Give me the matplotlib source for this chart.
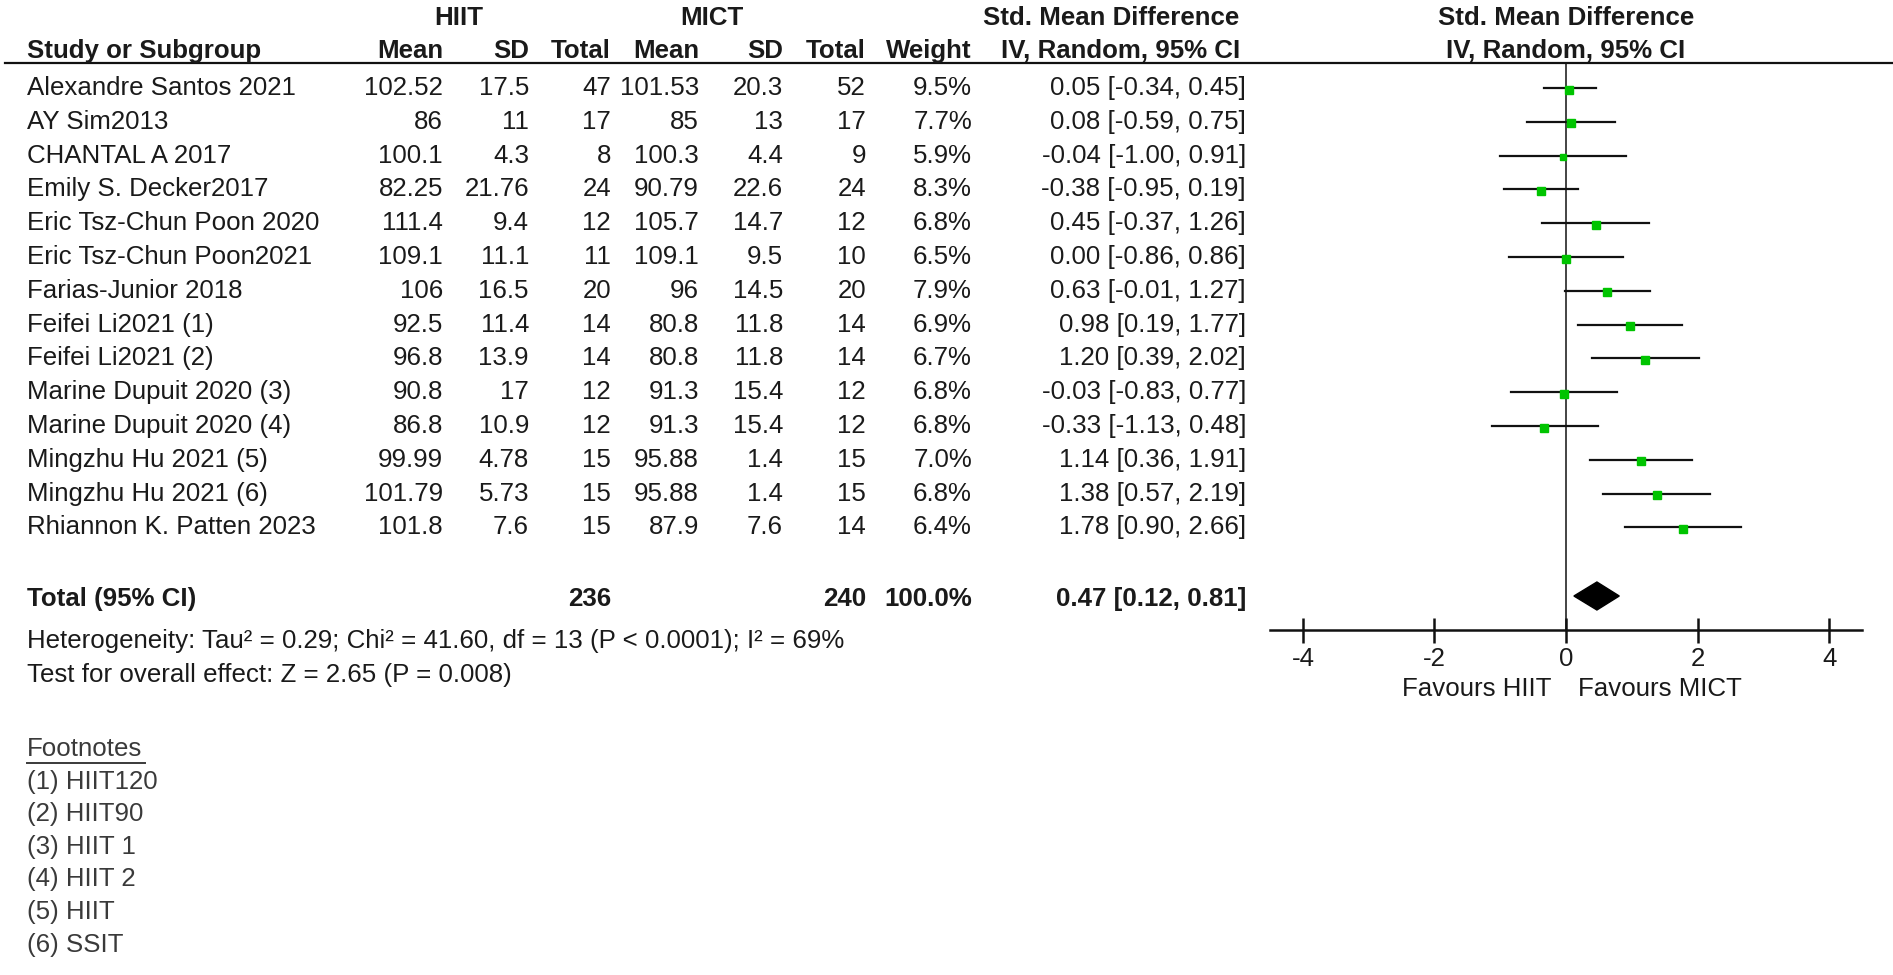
import matplotlib
matplotlib.use("Agg")
import matplotlib.pyplot as plt
from matplotlib.patches import Polygon

# ---------------- data ----------------
studies = ["Alexandre Santos 2021", "AY Sim2013", "CHANTAL A 2017", "Emily S. Decker2017",
           "Eric Tsz-Chun Poon 2020", "Eric Tsz-Chun Poon2021", "Farias-Junior 2018",
           "Feifei Li2021 (1)", "Feifei Li2021 (2)", "Marine Dupuit 2020 (3)",
           "Marine Dupuit 2020 (4)", "Mingzhu Hu 2021 (5)", "Mingzhu Hu 2021 (6)",
           "Rhiannon K. Patten 2023"]
hiit_mean = ["102.52", "86", "100.1", "82.25", "111.4", "109.1", "106", "92.5", "96.8",
             "90.8", "86.8", "99.99", "101.79", "101.8"]
hiit_sd = ["17.5", "11", "4.3", "21.76", "9.4", "11.1", "16.5", "11.4", "13.9",
           "17", "10.9", "4.78", "5.73", "7.6"]
hiit_n = [47, 17, 8, 24, 12, 11, 20, 14, 14, 12, 12, 15, 15, 15]
mict_mean = ["101.53", "85", "100.3", "90.79", "105.7", "109.1", "96", "80.8", "80.8",
             "91.3", "91.3", "95.88", "95.88", "87.9"]
mict_sd = ["20.3", "13", "4.4", "22.6", "14.7", "9.5", "14.5", "11.8", "11.8",
           "15.4", "15.4", "1.4", "1.4", "7.6"]
mict_n = [52, 17, 9, 24, 12, 10, 20, 14, 14, 12, 12, 15, 15, 14]
weight = [9.5, 7.7, 5.9, 8.3, 6.8, 6.5, 7.9, 6.9, 6.7, 6.8, 6.8, 7.0, 6.8, 6.4]
smd = [0.05, 0.08, -0.04, -0.38, 0.45, 0.00, 0.63, 0.98, 1.20, -0.03, -0.33, 1.14, 1.38, 1.78]
ci_lo = [-0.34, -0.59, -1.00, -0.95, -0.37, -0.86, -0.01, 0.19, 0.39, -0.83, -1.13, 0.36, 0.57, 0.90]
ci_hi = [0.45, 0.75, 0.91, 0.19, 1.26, 0.86, 1.27, 1.77, 2.02, 0.77, 0.48, 1.91, 2.19, 2.66]
total_hiit = 236
total_mict = 240
total_weight = "100.0%"
pooled = 0.47
pooled_lo = 0.12
pooled_hi = 0.81
xticks = [-4, -2, 0, 2, 4]
heterogeneity = "Heterogeneity: Tau\u00b2 = 0.29; Chi\u00b2 = 41.60, df = 13 (P < 0.0001); I\u00b2 = 69%"
overall = "Test for overall effect: Z = 2.65 (P = 0.008)"
footnotes = ["(1) HIIT120", "(2) HIIT90", "(3) HIIT 1", "(4) HIIT 2", "(5) HIIT", "(6) SSIT"]

# ---------------- layout ----------------
W, H = 1893, 975
plt.rcParams['font.family'] = ['Liberation Sans', 'DejaVu Sans']
FS = 18.6
TXT = "#1a1a1a"
fig = plt.figure(figsize=(W / 100, H / 100), dpi=100)
fig.patch.set_facecolor("white")

tab = fig.add_axes([0, 0, 1, 1])
tab.set_xlim(0, W)
tab.set_ylim(H, 0)
tab.axis("off")

row0, dy = 88, 33.8
y_total = 599
ycol = [row0 + i * dy for i in range(len(studies))]

x_name = 27
x_cols = [443, 529, 611, 699, 783, 866, 972, 1246]

def t(x, y, s, ha="right", bold=False, color=TXT, fs=FS):
    tab.text(x, y, s, ha=ha, va="center", fontsize=fs,
             fontweight="bold" if bold else "normal", color=color)

# headers
t(459, 18, "HIIT", ha="center", bold=True)
t(712, 18, "MICT", ha="center", bold=True)
t(1239, 18, "Std. Mean Difference", ha="right", bold=True)
t(1566, 18, "Std. Mean Difference", ha="center", bold=True)
t(x_name, 51, "Study or Subgroup", ha="left", bold=True)
for x, s in zip(x_cols[:7], ["Mean", "SD", "Total", "Mean", "SD", "Total", "Weight"]):
    t(x, 51, s, bold=True)
t(1240, 51, "IV, Random, 95% CI", bold=True)
t(1566, 51, "IV, Random, 95% CI", ha="center", bold=True)
tab.plot([5, W], [63, 63], color="#111111", lw=1.6)

# rows
for i, y in enumerate(ycol):
    t(x_name, y, studies[i], ha="left")
    vals = [hiit_mean[i], hiit_sd[i], str(hiit_n[i]), mict_mean[i], mict_sd[i],
            str(mict_n[i]), f"{weight[i]:.1f}%",
            f"{smd[i]:.2f} [{ci_lo[i]:.2f}, {ci_hi[i]:.2f}]"]
    for x, s in zip(x_cols, vals):
        t(x, y, s)

t(x_name, y_total, "Total (95% CI)", ha="left", bold=True)
t(x_cols[2], y_total, str(total_hiit), bold=True)
t(x_cols[5], y_total, str(total_mict), bold=True)
t(x_cols[6], y_total, total_weight, bold=True)
t(x_cols[7], y_total, f"{pooled:.2f} [{pooled_lo:.2f}, {pooled_hi:.2f}]", bold=True)
t(x_name, 641, heterogeneity, ha="left")
t(x_name, 675, overall, ha="left")

FN = "#3a3a3a"
fy0, fdy = 749, 32.6
fn_t = tab.text(x_name, fy0, "Footnotes", ha="left", va="center", fontsize=FS, color=FN)
for k, s in enumerate(footnotes):
    t(x_name, fy0 + (k + 1) * fdy, s, ha="left", color=FN)
fig.canvas.draw()
bb = fn_t.get_window_extent().transformed(tab.transData.inverted())
tab.plot([bb.x0, bb.x1 + 3], [fy0 + 14, fy0 + 14], color=FN, lw=1.4)

# forest plot
x_left, x_right = 1270, 1862
y_top, y_axis = 63, 630
fax = fig.add_axes([x_left / W, 1 - y_axis / H, (x_right - x_left) / W, (y_axis - y_top) / H])
fax.set_xlim(-4.5, 4.5)
fax.set_ylim(y_axis, y_top)
fax.patch.set_alpha(0)
for s in ["top", "right", "left"]:
    fax.spines[s].set_visible(False)
fax.spines["bottom"].set_linewidth(1.8)
fax.spines["bottom"].set_color("#111111")
fax.set_yticks([])
fax.set_xticks(xticks)
fax.set_xticklabels([str(v) for v in xticks])
fax.tick_params(axis="x", direction="inout", length=18, width=1.8, colors="#111111",
                labelsize=FS, pad=3, labelcolor=TXT)
fax.axvline(0, color="#111111", lw=1.1, zorder=1)

for i, y in enumerate(ycol):
    fax.plot([ci_lo[i], ci_hi[i]], [y, y], color="#111111", lw=1.6, zorder=2)
    ms = 5.4 * (weight[i] / 7.0) ** 0.5
    fax.plot([smd[i]], [y + 1.5], marker="s", ms=ms, color="#00c400", mec="#00c400", zorder=3)

yd = y_total - 3
dh = 14
fax.add_patch(Polygon([[pooled_lo, yd], [pooled, yd - dh], [pooled_hi, yd], [pooled, yd + dh]],
                      closed=True, facecolor="black", edgecolor="black", zorder=3))

t(1552, 689, "Favours HIIT", ha="right")
t(1578, 689, "Favours MICT", ha="left")

fig.savefig("out.png", dpi=100, facecolor="white")
